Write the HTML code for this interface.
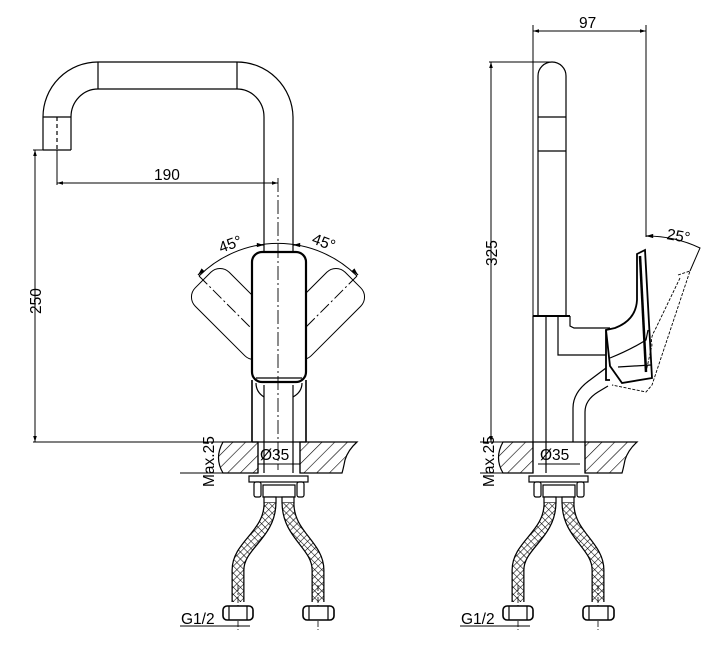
<!DOCTYPE html>
<html><head><style>
html,body{margin:0;padding:0;background:#fff}
svg{display:block}
text{font-family:"Liberation Sans",Arial,sans-serif;font-size:15.5px;fill:#000}
</style></head><body>
<svg width="720" height="653" viewBox="0 0 720 653" xmlns="http://www.w3.org/2000/svg">
<defs>
<pattern id="hatch" patternUnits="userSpaceOnUse" width="9" height="9" patternTransform="rotate(45)">
<rect width="9" height="9" fill="#fff"/><line x1="0" y1="0" x2="0" y2="9" stroke="#000" stroke-width="1.2"/>
</pattern>
<pattern id="xh" patternUnits="userSpaceOnUse" width="5" height="5" patternTransform="rotate(45)">
<rect width="5" height="5" fill="#fff"/><line x1="0" y1="0" x2="0" y2="5" stroke="#000" stroke-width="1.1"/><line x1="0" y1="0" x2="5" y2="0" stroke="#000" stroke-width="1.1"/>
</pattern>
<marker id="a" viewBox="0 0 10 10" refX="10" refY="5" markerWidth="8" markerHeight="6" orient="auto-start-reverse"><path d="M0,2 L10,5 L0,8 z" fill="#000"/></marker>
</defs>
<g fill="none" stroke="#000" stroke-width="1.2">

<!-- ===== LEFT VIEW ===== -->
<path d="M43,150 V117 A55,55 0 0 1 98,62 H237 A56,56 0 0 1 293,117 V252"/>
<path d="M71,150 V117 A27,28 0 0 1 98,89 H237 A27,28 0 0 1 264,117 V252"/>
<line x1="98" y1="62" x2="98" y2="89"/><line x1="237" y1="62" x2="237" y2="89"/>
<line x1="43" y1="117" x2="71" y2="117"/>
<line x1="43" y1="150" x2="71" y2="150"/>
<line x1="57" y1="117" x2="57" y2="150" stroke-dasharray="4,3"/>
<g transform="translate(278,355) rotate(-45)"><rect x="-24" y="-106" width="48" height="96" rx="13" fill="#fff" stroke-width="1"/></g>
<g transform="translate(278,355) rotate(45)"><rect x="-24" y="-106" width="48" height="96" rx="13" fill="#fff" stroke-width="1"/></g>
<line x1="278" y1="355" x2="199" y2="276" stroke-dasharray="12,3,2,3" stroke-width="1"/>
<line x1="278" y1="355" x2="357" y2="276" stroke-dasharray="12,3,2,3" stroke-width="1"/>
<path d="M252,380 V442 M306,380 V442" stroke-width="1.6"/>
<path d="M264,385 V442 M293,385 V442"/>
<path d="M256,383 Q256,392 264,397 M302,383 Q302,392 293,397"/>
<rect x="252" y="252" width="54" height="130" rx="10" fill="#fff" stroke-width="2.2"/>
<line x1="256" y1="378" x2="302" y2="378"/>
<line x1="278" y1="178" x2="278" y2="470" stroke-dasharray="14,3,2,3" stroke-width="0.9"/>
<path d="M199,276 A112,112 0 0 1 357,276" stroke-width="1"/>
<line x1="262" y1="245" x2="264" y2="245" marker-end="url(#a)"/>
<line x1="295" y1="245" x2="293" y2="245" marker-end="url(#a)"/>
<line x1="203" y1="270" x2="198" y2="275" marker-end="url(#a)"/>
<line x1="353" y1="270" x2="358" y2="275" marker-end="url(#a)"/>
<line x1="57" y1="150" x2="57" y2="185" stroke-width="1"/>
<line x1="57" y1="183" x2="278" y2="183" marker-start="url(#a)" marker-end="url(#a)" stroke-width="1"/>
<line x1="33" y1="150" x2="43" y2="150" stroke-width="1"/>
<line x1="35" y1="150" x2="35" y2="442" marker-start="url(#a)" marker-end="url(#a)" stroke-width="1"/>
<line x1="33" y1="442" x2="252" y2="442" stroke-width="1"/>

<g>
<path d="M223,442 H258 V473 H223 Q214,458 223,442 Z" fill="url(#hatch)"/>
<path d="M300,442 H357 Q348,450 345,460 Q343,470 342,473 H300 Z" fill="url(#hatch)"/>
<line x1="252" y1="442" x2="306" y2="442"/>
<path d="M258,442 V473 M300,442 V473 M264,442 V473 M293,442 V473"/>
<line x1="258" y1="464" x2="300" y2="464" stroke-width="1"/>
<line x1="180" y1="442" x2="223" y2="442" stroke-width="1"/>
<line x1="180" y1="473" x2="258" y2="473" stroke-width="1"/>
<rect x="249" y="476" width="59" height="6" fill="#fff"/>
<rect x="254" y="482" width="7" height="15" rx="2" fill="#fff"/>
<rect x="297" y="482" width="7" height="15" rx="2" fill="#fff"/>
<rect x="263" y="485" width="32" height="12" fill="#fff"/>
<rect x="264" y="497" width="12" height="6" fill="#fff"/>
<rect x="282" y="497" width="12" height="6" fill="#fff"/>
<path d="M270,503 C270,535 238,545 238,570 V602" stroke="#000" stroke-width="13"/>
<path d="M270,503 C270,535 238,545 238,570 V602" stroke="url(#xh)" stroke-width="10.5"/>
<path d="M288,503 C288,535 318,545 318,570 V602" stroke="#000" stroke-width="13"/>
<path d="M288,503 C288,535 318,545 318,570 V602" stroke="url(#xh)" stroke-width="10.5"/>
<line x1="238" y1="585" x2="238" y2="630" stroke-dasharray="6,2,2,2" stroke-width="0.8"/>
<line x1="318" y1="585" x2="318" y2="630" stroke-dasharray="6,2,2,2" stroke-width="0.8"/>
<rect x="223" y="606" width="30" height="14" rx="4" fill="#fff" stroke-width="1.6"/>
<line x1="229" y1="606" x2="229" y2="620"/><line x1="247" y1="606" x2="247" y2="620"/>
<rect x="303" y="606" width="31" height="14" rx="4" fill="#fff" stroke-width="1.6"/>
<line x1="309" y1="606" x2="309" y2="620"/><line x1="328" y1="606" x2="328" y2="620"/>
<line x1="180" y1="626" x2="250" y2="626" stroke-width="1"/>
</g>

<!-- ===== RIGHT VIEW ===== -->
<g transform="translate(280,0)">
<path d="M223,442 H253 V473 H223 Q214,458 223,442 Z" fill="url(#hatch)"/>
<path d="M305,442 H357 Q348,450 345,460 Q343,470 342,473 H305 Z" fill="url(#hatch)"/>
<line x1="253" y1="442" x2="305" y2="442"/>
<path d="M253,442 V473 M305,442 V473 M266,442 V473"/>
<line x1="258" y1="464" x2="300" y2="464" stroke-width="1"/>
<line x1="200" y1="442" x2="223" y2="442" stroke-width="1"/>
<line x1="200" y1="473" x2="253" y2="473" stroke-width="1"/>
<rect x="249" y="476" width="59" height="6" fill="#fff"/>
<rect x="254" y="482" width="7" height="15" rx="2" fill="#fff"/>
<rect x="297" y="482" width="7" height="15" rx="2" fill="#fff"/>
<rect x="263" y="485" width="32" height="12" fill="#fff"/>
<rect x="264" y="497" width="12" height="6" fill="#fff"/>
<rect x="282" y="497" width="12" height="6" fill="#fff"/>
<path d="M270,503 C270,535 238,545 238,570 V602" stroke="#000" stroke-width="13"/>
<path d="M270,503 C270,535 238,545 238,570 V602" stroke="url(#xh)" stroke-width="10.5"/>
<path d="M288,503 C288,535 318,545 318,570 V602" stroke="#000" stroke-width="13"/>
<path d="M288,503 C288,535 318,545 318,570 V602" stroke="url(#xh)" stroke-width="10.5"/>
<line x1="238" y1="585" x2="238" y2="630" stroke-dasharray="6,2,2,2" stroke-width="0.8"/>
<line x1="318" y1="585" x2="318" y2="630" stroke-dasharray="6,2,2,2" stroke-width="0.8"/>
<rect x="223" y="606" width="30" height="14" rx="4" fill="#fff" stroke-width="1.6"/>
<line x1="229" y1="606" x2="229" y2="620"/><line x1="247" y1="606" x2="247" y2="620"/>
<rect x="303" y="606" width="31" height="14" rx="4" fill="#fff" stroke-width="1.6"/>
<line x1="309" y1="606" x2="309" y2="620"/><line x1="328" y1="606" x2="328" y2="620"/>
<line x1="180" y1="626" x2="250" y2="626" stroke-width="1"/>
</g>
<path d="M538,316 V76 A14,14 0 0 1 566,76 V316"/>
<line x1="538" y1="117" x2="566" y2="117"/><line x1="538" y1="151" x2="566" y2="151"/>
<line x1="533" y1="316" x2="570" y2="316" stroke-width="2"/>
<path d="M533,316 V442 M546,316 V442 M558,316 V355 H606"/>
<path d="M570,316 V326 L574,328 H610"/>
<path d="M573,442 V408 Q573,392 590,380 L606,368"/>
<path d="M585,442 V412 Q585,400 598,392 L608,386"/>
<path d="M606,330 V380 L610,380" stroke-width="1.8"/>
<path d="M637,254 L645,250 L652,378 L622,383 L610,366 L606,330 L615,328 Q636,320 637,300 Z" stroke-width="1.8" fill="#fff"/>
<path d="M640,256 L646,372" stroke-width="2.5"/>
<path d="M610,358 Q630,350 646,340 L648,330"/>
<line x1="618" y1="367" x2="651" y2="365"/>
<path d="M678,275 L690,271 L652,385 L646,392 L612,385" stroke-dasharray="3,1.5" stroke-width="0.9"/>
<path d="M680,278 L655,330 Q650,338 652,345 L646,372" stroke-dasharray="3,1.5" stroke-width="0.9"/>
<line x1="533" y1="25" x2="533" y2="316" stroke-width="1"/>
<line x1="646" y1="25" x2="646" y2="237" stroke-width="1"/>
<line x1="533" y1="31" x2="646" y2="31" marker-start="url(#a)" marker-end="url(#a)" stroke-width="1"/>
<line x1="489" y1="62" x2="552" y2="62" stroke-width="1"/>
<line x1="491" y1="62" x2="491" y2="442" marker-start="url(#a)" marker-end="url(#a)" stroke-width="1"/>
<line x1="489" y1="442" x2="533" y2="442" stroke-width="1"/>
<path d="M646,236 Q675,236 700,248 L690,271" stroke-width="1"/>
<line x1="652" y1="236" x2="646" y2="236" marker-end="url(#a)"/>
</g>

<text x="154" y="180">190</text>
<text transform="translate(41,314) rotate(-90)">250</text>
<text transform="translate(221,253) rotate(-20)">45°</text>
<text transform="translate(311,243) rotate(20)">45°</text>
<text x="260" y="460">Ø35</text>
<text transform="translate(214,487) rotate(-90)" font-size="14">Max.25</text>
<text x="181" y="624">G1/2</text>
<text x="579" y="28">97</text>
<text transform="translate(497,266) rotate(-90)">325</text>
<text transform="translate(666,239) rotate(10)">25°</text>
<text x="540" y="460">Ø35</text>
<text transform="translate(494,487) rotate(-90)" font-size="14">Max.25</text>
<text x="461" y="624">G1/2</text>
</svg>
</body></html>
